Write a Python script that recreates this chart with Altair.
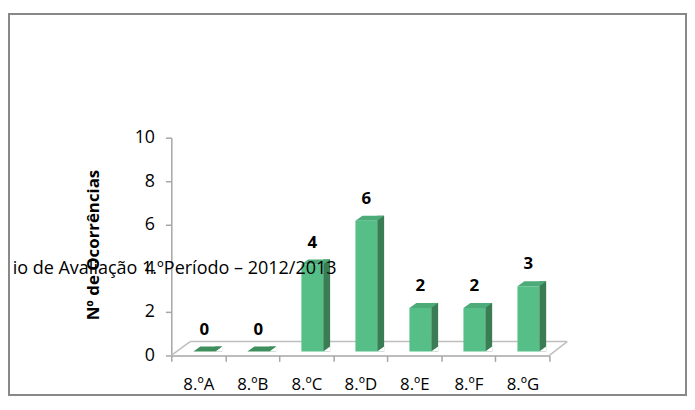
import altair as alt
import pandas as pd

categories = ["8.ºA", "8.ºB", "8.ºC", "8.ºD", "8.ºE", "8.ºF", "8.ºG"]
values = [0, 0, 4, 6, 2, 2, 3]
y_ticks = [0, 2, 4, 6, 8, 10]
y_title = "Nº de Ocorrências"
overlay_text = "io de Avaliação 1.ºPeríodo – 2012/2013"

FONT = "Open Sans"
df = pd.DataFrame({"turma": categories, "n": values})

xs = alt.Scale(domain=categories, paddingInner=0, paddingOuter=0)
ys = alt.Scale(domain=[0, 10])

X = alt.X("turma:N", scale=xs, sort=categories,
          axis=alt.Axis(title=None, labelAngle=0, tickBand="extent", grid=False,
                        domainColor="#A6A6A6", domainWidth=1.5, tickColor="#A6A6A6",
                        tickWidth=1.5, tickSize=6, labelFontSize=17, labelPadding=15,
                        labelColor="#000000", labelFont=FONT))
Y = alt.Y("n:Q", scale=ys,
          axis=alt.Axis(values=y_ticks, grid=False, domainColor="#A6A6A6", domainWidth=1.5,
                        tickColor="#A6A6A6", tickWidth=1.5, tickSize=6, labelFontSize=18,
                        labelPadding=11, labelColor="#000000", labelFont=FONT,
                        title=y_title, titleFont=FONT, titleFontSize=17, titleFontWeight="bold",
                        titleColor="#000000", titleX=-79, titleY=108, titleAngle=270,
                        titleAlign="center", titleBaseline="middle"))

base = alt.Chart(df)

# frame around chart
frame = alt.Chart(pd.DataFrame({"k": [0]})).mark_rect(
    fill=None, stroke="#888888", strokeWidth=2
).encode(x=alt.value(-164), x2=alt.value(520), y=alt.value(-125), y2=alt.value(260))

# 3D floor
floor_left = alt.Chart(pd.DataFrame({"k": [0]})).mark_rule(color="#BFBFBF", strokeWidth=1.5).encode(
    x=alt.value(0), y=alt.value(220), x2=alt.value(19), y2=alt.value(206))
floor_back = alt.Chart(pd.DataFrame({"k": [0]})).mark_rule(color="#BFBFBF", strokeWidth=1.5).encode(
    x=alt.value(19), y=alt.value(206), x2=alt.value(400), y2=alt.value(206))
floor_right = alt.Chart(pd.DataFrame({"k": [0]})).mark_rule(color="#BFBFBF", strokeWidth=1.5).encode(
    x=alt.value(400), y=alt.value(206), x2=alt.value(382), y2=alt.value(220))

side = base.mark_bar(size=7, xOffset=20.5, yOffset=-9, y2Offset=-4, color="#3A7D55").encode(
    x=X, y=Y, y2=alt.datum(0))

cover = base.mark_point(
    shape="M -1 0.714 L 1 -0.714 L 1 0.714 Z", size=49, filled=True, opacity=1,
    color="#FFFFFF", strokeWidth=0, xOffset=20.5, yOffset=-6.5
).encode(x=X, y=alt.Y("z:Q", scale=ys)).transform_calculate(z="0")

top = base.mark_point(
    shape="M -1 0.1724 L 0.517 0.1724 L 1 -0.1724 L -0.517 -0.1724 Z", size=841,
    filled=True, opacity=1, strokeWidth=0, xOffset=9.5, yOffset=-6.5
).encode(
    x=X, y=alt.Y("n:Q", scale=ys),
    color=alt.condition("datum.n == 0", alt.value("#3F8F5E"), alt.value("#4CAB78")))

front = base.mark_bar(size=22, xOffset=6, yOffset=-4, y2Offset=-4, color="#55BF87").encode(
    x=X, y=alt.Y("n:Q", scale=ys), y2=alt.datum(0))

labels = base.mark_text(font=FONT, fontSize=17, fontWeight="bold", color="#000000",
                        baseline="middle", xOffset=6, yOffset=-26).encode(
    x=X, y=alt.Y("n:Q", scale=ys), text="n:Q")

overlay = alt.Chart(pd.DataFrame({"t": [overlay_text]})).mark_text(
    font=FONT, fontSize=18.2, color="#000000", align="right", baseline="middle"
).encode(x=alt.value(167), y=alt.value(133), text="t:N")

chart = alt.layer(frame, floor_left, floor_back, floor_right, side, cover, top, front,
                  labels, overlay).properties(
    width=382, height=220,
    autosize=alt.AutoSizeParams(type="none"),
    padding={"left": 165, "top": 129, "right": 139, "bottom": 41},
).configure(background="#FFFFFF").configure_view(stroke="transparent", strokeWidth=0)

chart.save("out.html", embed_options={"renderer": "svg", "actions": False})
